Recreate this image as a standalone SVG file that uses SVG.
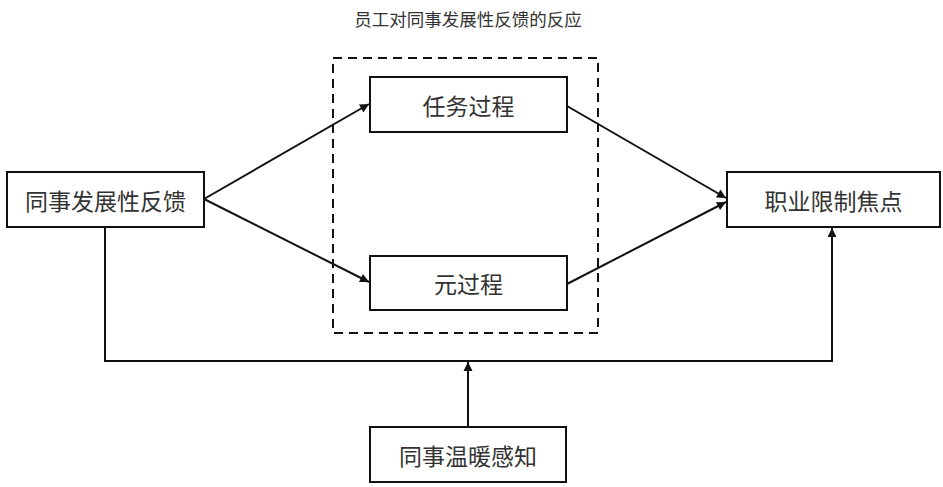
<svg xmlns="http://www.w3.org/2000/svg" width="943" height="487" viewBox="0 0 943 487">
<defs>
<marker id="ah" viewBox="0 0 10 10" refX="10" refY="5" markerWidth="11" markerHeight="9" orient="auto" markerUnits="userSpaceOnUse" overflow="visible">
<path d="M0,0 L10,5 L0,10 z" fill="#111"/>
</marker>
<style>
.box{fill:#fff;stroke:#111;stroke-width:2}
.lbl{font-family:"Noto Sans CJK SC","Noto Sans",sans-serif;font-size:23px;fill:#333;text-anchor:middle;dominant-baseline:central}
.ttl{font-family:"Noto Sans CJK SC","Noto Sans",sans-serif;font-size:17.5px;fill:#333;text-anchor:middle;dominant-baseline:central}
.ln{fill:none;stroke:#111;stroke-width:2}
</style>
</defs>
<rect width="943" height="487" fill="#fff"/>
<text class="ttl" x="468" y="18">员工对同事发展性反馈的反应</text>
<rect id="group" x="333" y="58" width="265" height="275" fill="none" stroke="#111" stroke-width="2" stroke-dasharray="9,6"/>
<g id="connectors">
<path class="ln" d="M204,199 L369,104" marker-end="url(#ah)"/>
<path class="ln" d="M204,199 L369,282" marker-end="url(#ah)"/>
<path class="ln" d="M567,106 L726,198" marker-end="url(#ah)"/>
<path class="ln" d="M567,284 L726,202" marker-end="url(#ah)"/>
<path class="ln" d="M105,227 L105,361 L832,361 L832,228" marker-end="url(#ah)"/>
<path class="ln" d="M468,427 L468,362" marker-end="url(#ah)"/>
</g>
<g id="n1"><rect class="box" x="7" y="172" width="197" height="55"/><text class="lbl" x="105.5" y="199.5">同事发展性反馈</text></g>
<g id="n2"><rect class="box" x="370" y="77" width="197" height="55"/><text class="lbl" x="468.5" y="104.5">任务过程</text></g>
<g id="n3"><rect class="box" x="370" y="256" width="197" height="54"/><text class="lbl" x="468.5" y="283">元过程</text></g>
<g id="n4"><rect class="box" x="727" y="172" width="213" height="55"/><text class="lbl" x="833.5" y="199.5">职业限制焦点</text></g>
<g id="n5"><rect class="box" x="370" y="427" width="196" height="55"/><text class="lbl" x="468" y="454.5">同事温暖感知</text></g>
</svg>
